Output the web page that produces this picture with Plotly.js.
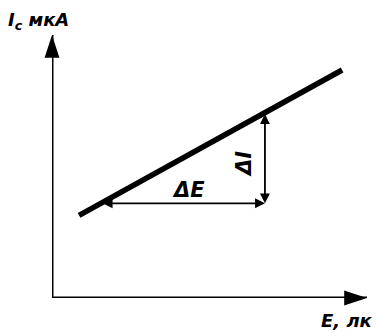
<!DOCTYPE html>
<html>
<head>
<meta charset="utf-8">
<script src="https://cdn.plot.ly/plotly-3.0.1.min.js"></script>
<style>
  html, body { margin: 0; padding: 0; background: #fff; }
  #chart { width: 377px; height: 333px; }
</style>
</head>
<body>
<div id="chart"></div>
<script>
"use strict";

// schematic units, origin at the corner of the axes
const axisX = [-0.08, 10];
const axisY = [-0.05, 10];

// the characteristic I_c(E)
const lineE = [0.86, 9.21];
const lineI = [3.14, 8.67];

// increment triangle
const dE = { e0: 1.56, e1: 6.76, i: 3.6 };
const dI = { e: 6.76, i0: 3.6, i1: 7.05 };

const labels = {
    yTitle: "I<sub>c</sub> мкА",
    xTitle: "E, лк",
    dE: "ΔE",
    dI: "ΔI",
};

const ink = "#000";
const font = { family: "DejaVu Sans", color: ink, style: "italic" };

// axes (they sit on the edge of the plot area, so no clipping)
const axisLines = [
    { x: axisX, y: [0, 0] },
    { x: [0, 0], y: axisY },
].map(t => ({
    x: t.x,
    y: t.y,
    mode: "lines",
    line: { color: ink, width: 3 },
    cliponaxis: false,
    hoverinfo: "skip",
    showlegend: false,
}));

// arrow heads at the far ends of the axes
const axisHeads = {
    x: [axisX[1], 0],
    y: [0, axisY[1]],
    mode: "markers",
    marker: { symbol: "arrow", size: 24, angle: [90, 0], color: ink, line: { width: 0 } },
    cliponaxis: false,
    hoverinfo: "skip",
    showlegend: false,
};

const mainLine = {
    x: lineE,
    y: lineI,
    mode: "lines",
    line: { color: ink, width: 5.5 },
    hoverinfo: "skip",
    showlegend: false,
};

function dblArrow(x0, y0, x1, y1) {
    return {
        x: x1, y: y1, ax: x0, ay: y0,
        xref: "x", yref: "y", axref: "x", ayref: "y",
        text: "", showarrow: true,
        arrowside: "end+start",
        arrowhead: 2, arrowsize: 1.1, arrowwidth: 1.8, arrowcolor: ink,
    };
}

function label(x, y, text, size, extra) {
    return Object.assign({
        x: x, y: y, xref: "paper", yref: "paper",
        text: text, showarrow: false,
        font: Object.assign({}, font, { size: size, weight: "bold" }),
    }, extra || {});
}

const annotations = [
    dblArrow(dE.e0, dE.i, dE.e1, dE.i),
    dblArrow(dI.e, dI.i1, dI.e, dI.i0),
    label(-0.145, 1.053, labels.yTitle, 18, { xanchor: "left", yanchor: "middle" }),
    label(0.849, -0.087, labels.xTitle, 18, { xanchor: "left", yanchor: "middle" }),
    label(0.432, 0.41, labels.dE, 21),
    label(0.61, 0.51, labels.dI, 21, { textangle: -90 }),
];

const layout = {
    width: 377,
    height: 333,
    margin: { l: 52, r: 10, t: 35, b: 35 },
    paper_bgcolor: "#fff",
    plot_bgcolor: "#fff",
    xaxis: { range: [0, 10], visible: false, fixedrange: true },
    yaxis: { range: [0, 10], visible: false, fixedrange: true },
    annotations: annotations,
    showlegend: false,
};

Plotly.newPlot("chart", [...axisLines, axisHeads, mainLine], layout, { staticPlot: true });
</script>
</body>
</html>
